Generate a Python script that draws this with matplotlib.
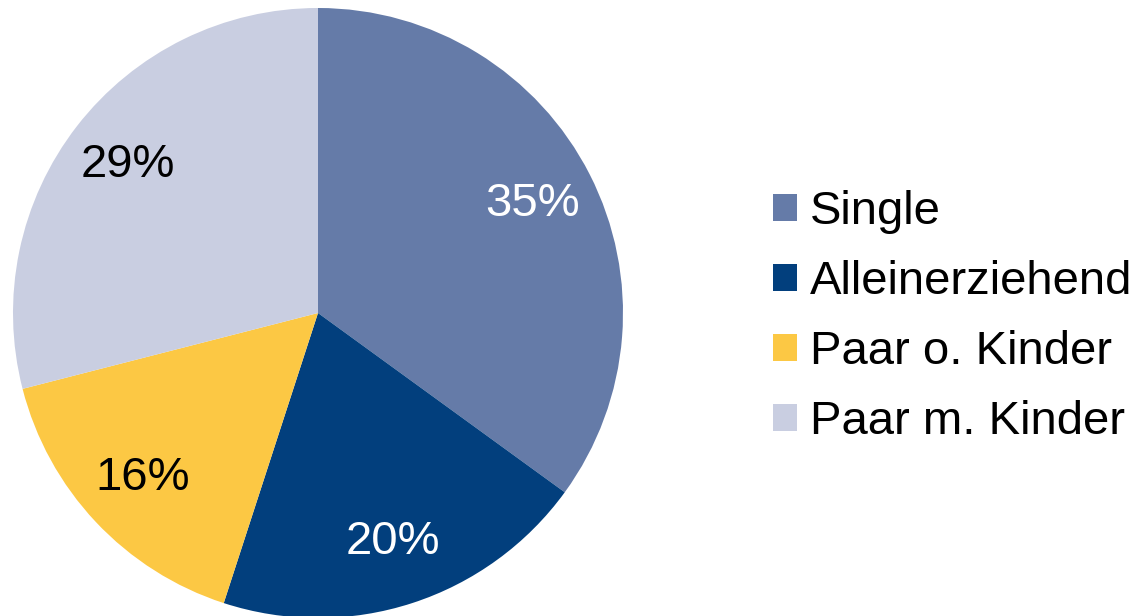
import matplotlib.pyplot as plt

# household types and their shares (%)
labels = ['Single', 'Alleinerziehend', 'Paar o. Kinder', 'Paar m. Kinder']
shares = [35, 20, 16, 29]
colors = ['#657BA8', '#023F7D', '#FCC844', '#C9CEE1']
pct_colors = ['white', 'white', 'black', 'black']

plt.rcParams['font.family'] = ['Liberation Sans', 'DejaVu Sans']

fig = plt.figure(figsize=(11.4, 6.16), dpi=100)
# pie centre at about (318, 313) px, radius about 305 px
ax = fig.add_axes([13 / 1140, -2 / 616, 610 / 1140, 610 / 616])

wedges, texts, autotexts = ax.pie(
    shares, colors=colors, startangle=90, counterclock=False,
    autopct='%.0f%%', pctdistance=0.79, radius=1,
    wedgeprops=dict(linewidth=0),
    textprops=dict(fontsize=34),
)
for t, c in zip(autotexts, pct_colors):
    t.set_color(c)
ax.set_xlim(-1, 1)
ax.set_ylim(-1, 1)
ax.set_aspect('equal')

fig.legend(wedges, labels, loc='center left', bbox_to_anchor=(773 / 1140, 1 - 317 / 616),
           frameon=False, fontsize=34, handlelength=0.51, handleheight=0.51,
           handletextpad=0.28, labelspacing=0.55, borderpad=0, borderaxespad=0)

fig.savefig('out.png', dpi=100)
